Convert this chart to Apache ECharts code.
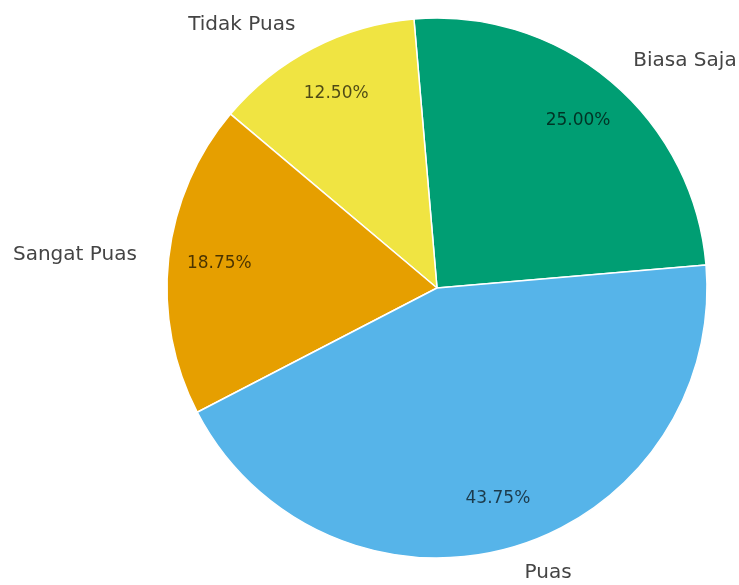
<!DOCTYPE html>
<html>
<head>
<meta charset="utf-8">
<script src="https://cdn.jsdelivr.net/npm/echarts@6/dist/echarts.min.js"></script>
<style>
html,body{margin:0;padding:0;background:#fff;}
#chart{width:739px;height:585px;}
</style>
</head>
<body>
<div id="chart"></div>
<script>
const categories = ['Biasa Saja', 'Tidak Puas', 'Sangat Puas', 'Puas'];
const counts = [4, 2, 3, 7];
const colors = ['#009E73', '#F0E442', '#E69F00', '#56B4E9'];

const center = [437, 288];
const R = 270;
const fontFam = 'DejaVu Sans';

const total = counts.reduce((a, b) => a + b, 0);
const mainData = categories.map((c, i) => ({
  name: c, value: counts[i], itemStyle: { color: colors[i] }
}));
const labelData = categories.map((c, i) => ({ name: c, value: counts[i] }));

const chart = echarts.init(document.getElementById('chart'));
chart.setOption({
  animation: false,
  backgroundColor: '#fff',
  series: [
    {
      type: 'pie',
      center: center,
      radius: [0, R],
      clockwise: false,
      startAngle: 4.9,
      avoidLabelOverlap: false,
      silent: true,
      itemStyle: { borderColor: '#fff', borderWidth: 1.5 },
      label: {
        show: true,
        position: 'outside',
        formatter: '{b}',
        color: '#444',
        fontFamily: fontFam,
        fontSize: 20
      },
      labelLine: { show: false, length: 27, length2: 0 },
      data: mainData
    },
    {
      type: 'pie',
      center: center,
      radius: [R * 0.6, R],
      clockwise: false,
      startAngle: 4.9,
      avoidLabelOverlap: false,
      silent: true,
      itemStyle: { color: 'rgba(0,0,0,0)', borderWidth: 0 },
      label: {
        show: true,
        position: 'inside',
        formatter: p => (p.value / total * 100).toFixed(2) + '%',
        color: 'rgba(0,0,0,0.68)',
        fontFamily: fontFam,
        fontSize: 17
      },
      labelLine: { show: false },
      data: labelData
    }
  ]
});
</script>
</body>
</html>
